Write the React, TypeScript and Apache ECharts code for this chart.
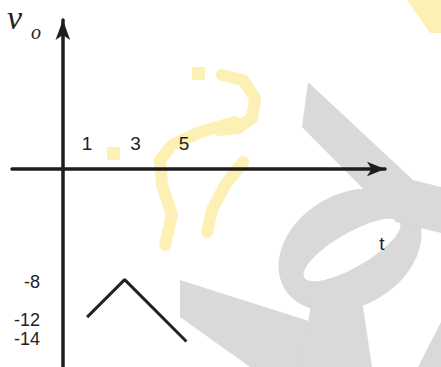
import React, { useEffect, useRef } from "react";
import * as echarts from "echarts";

// Tick labels shown on the two axes
const tTicks = [1, 3, 5];
const voTicks = [-8, -12, -14];

// Output waveform v_o(t): rise then fall
const tValues = [1.0, 2.55, 5.1];
const voValues = [-11.7, -7.7, -14.3];

const T_MIN = -2.1;
const T_MAX = 13.3;

const GRAY = "#d9d9d9";
const YELLOW = "#fdf0b4";

export default function App() {
  const ref = useRef<HTMLDivElement>(null);

  useEffect(() => {
    const chart = echarts.init(ref.current!, null, { renderer: "svg" });
    const axisColor = "#1d1d1d";
    const sans = "'Liberation Sans', Arial, sans-serif";
    const serif = "'Liberation Serif', 'Times New Roman', serif";

    const backdrop: any[] = [
      // soft background lettering
      { type: "ellipse", x: 350, y: 250, rotation: Math.PI / 6, shape: { cx: 0, cy: 0, rx: 76, ry: 56 }, style: { fill: GRAY } },
      { type: "ellipse", x: 352, y: 250, rotation: Math.PI / 6, shape: { cx: 0, cy: 0, rx: 55, ry: 17 }, style: { fill: "#ffffff" } },
      { type: "polygon", shape: { points: [[308, 82], [413, 180], [441, 187], [441, 233], [396, 222], [302, 127]] }, style: { fill: GRAY } },
      { type: "polygon", shape: { points: [[180, 280], [312, 322], [372, 367], [250, 367], [180, 317]] }, style: { fill: GRAY } },
      { type: "polygon", shape: { points: [[312, 300], [362, 300], [372, 367], [300, 367]] }, style: { fill: GRAY } },
      { type: "polygon", shape: { points: [[441, 322], [441, 367], [418, 367]] }, style: { fill: GRAY } },
      { type: "polygon", shape: { points: [[407, 0], [441, 0], [441, 33], [430, 33]] }, style: { fill: YELLOW } },
      { type: "rect", shape: { x: 192, y: 67, width: 13, height: 13 }, style: { fill: YELLOW } },
      { type: "rect", shape: { x: 107, y: 147, width: 13, height: 13 }, style: { fill: YELLOW } },
      { type: "polyline", shape: { points: [[222, 75], [243, 80], [255, 98], [252, 118], [238, 128], [220, 130]] }, style: { stroke: YELLOW, lineWidth: 12, lineCap: "round", lineJoin: "round", fill: null } },
      { type: "polyline", shape: { points: [[235, 122], [200, 132], [172, 145], [160, 160], [162, 185], [172, 215], [165, 245]] }, style: { stroke: YELLOW, lineWidth: 12, lineCap: "round", lineJoin: "round", fill: null } },
      { type: "polyline", shape: { points: [[243, 162], [225, 185], [212, 210], [207, 232]] }, style: { stroke: YELLOW, lineWidth: 12, lineCap: "round", lineJoin: "round", fill: null } },
    ].map((el) => ({ ...el, z: -10, silent: true }));

    const texts: any[] = [
      { type: "text", x: 7, y: 17, style: { text: "v", font: `italic 34px ${serif}`, lineHeight: 28, fill: "#222", verticalAlign: "middle", align: "left" } },
      { type: "text", x: 31, y: 31.5, style: { text: "o", font: `italic 20px ${serif}`, fill: "#222", verticalAlign: "middle", align: "left" } },
      { type: "text", x: 382, y: 243.4, style: { text: "t", font: `19px ${sans}`, fill: "#222", verticalAlign: "middle", align: "center" } },
    ];

    const noGrid = { axisTick: { show: false }, splitLine: { show: false } };
    const waveGrid = { left: 62.9, right: 56, top: 263.7, bottom: 9.5, containLabel: false, outerBoundsMode: "none" };

    // v_o labels sit close together, so alternate them over two stacked axes
    const voLabelAxis = (gridIndex: number, values: number[]) => ({
      gridIndex,
      type: "value",
      position: "left",
      min: -16,
      max: -6,
      axisLine: { show: false, onZero: false },
      ...noGrid,
      axisLabel: {
        show: true,
        customValues: values,
        showMinLabel: true,
        showMaxLabel: true,
        hideOverlap: false,
        margin: 23,
        lineHeight: 16,
        color: "#222",
        fontSize: 18,
        fontFamily: sans,
      },
    });

    const option: any = {
      animation: false,
      backgroundColor: "#ffffff",
      grid: [
        // vertical axis (full height)
        { left: 12, right: 56, top: 20, bottom: 0, containLabel: false, outerBoundsMode: "none" },
        // horizontal t axis (its bottom edge is the axis line)
        { left: 12, right: 56, top: 20, bottom: 198, containLabel: false, outerBoundsMode: "none" },
        // waveform area
        waveGrid,
        { ...waveGrid },
      ],
      xAxis: [
        { gridIndex: 0, type: "value", min: T_MIN, max: T_MAX, show: false },
        {
          gridIndex: 1,
          type: "value",
          position: "bottom",
          min: T_MIN,
          max: T_MAX,
          axisLine: {
            show: true,
            onZero: false,
            symbol: ["none", "arrow"],
            symbolSize: [11, 18],
            lineStyle: { color: axisColor, width: 3.5 },
          },
          ...noGrid,
          axisLabel: {
            show: true,
            inside: true,
            customValues: tTicks,
            showMinLabel: true,
            showMaxLabel: true,
            hideOverlap: false,
            margin: 16,
            color: "#222",
            fontSize: 19,
            fontFamily: sans,
          },
        },
        { gridIndex: 2, type: "value", min: 0, max: T_MAX, show: false },
        { gridIndex: 3, type: "value", min: 0, max: T_MAX, show: false },
      ],
      yAxis: [
        {
          gridIndex: 0,
          type: "value",
          min: -197.5,
          max: 149.5,
          axisLine: {
            show: true,
            onZero: true,
            symbol: ["none", "arrow"],
            symbolSize: [11, 20],
            lineStyle: { color: axisColor, width: 3.5 },
          },
          ...noGrid,
          axisLabel: { show: false },
        },
        { gridIndex: 1, type: "value", min: 0, max: 1, show: false },
        voLabelAxis(2, voTicks.filter((_, i) => i % 2 === 0)),
        voLabelAxis(3, voTicks.filter((_, i) => i % 2 === 1)),
      ],
      series: [
        {
          type: "line",
          xAxisIndex: 2,
          yAxisIndex: 2,
          data: tValues.map((t, i) => [t, voValues[i]]),
          symbol: "none",
          lineStyle: { color: "#222", width: 3 },
          z: 5,
        },
      ],
      graphic: [...backdrop, ...texts],
    };

    chart.setOption(option);
    return () => chart.dispose();
  }, []);

  return (
    <div
      ref={ref}
      style={{ position: "fixed", left: 0, top: 0, width: 441, height: 367 }}
    />
  );
}
